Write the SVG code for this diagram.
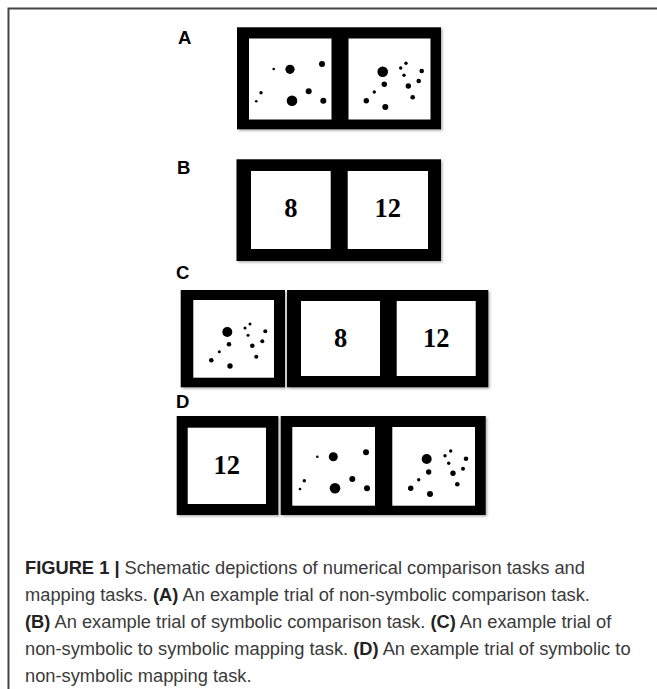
<svg xmlns="http://www.w3.org/2000/svg" width="657" height="689" viewBox="0 0 657 689">
<style>
.frame{fill:#000;filter:url(#sh)}
.win{fill:#fff}
.dot{fill:#000}
.lbl{font-family:"Liberation Sans",Arial,sans-serif;font-weight:bold;font-size:18.5px;fill:#000}
.num{font-family:"Liberation Serif","Times New Roman",serif;font-weight:bold;font-size:26.5px;fill:#000;text-anchor:middle}
.cap{font-family:"Liberation Sans",Arial,sans-serif;font-size:18.3px;fill:#3a3a3a}
.b{font-weight:bold;fill:#222}
</style>
<defs>
<filter id="sh" x="-5%" y="-5%" width="115%" height="115%">
<feDropShadow dx="1.5" dy="1.5" stdDeviation="1" flood-color="#000" flood-opacity="0.3"/>
</filter>
</defs>
<rect width="657" height="689" fill="#fff"/>
<path d="M8.5,689 V8.5 H657" fill="none" stroke="#444" stroke-width="2"/>

<g id="panelA">
<text class="lbl" x="178" y="43.5">A</text>
<rect class="frame" x="237" y="27.3" width="204" height="102"/>
<rect class="win" x="249" y="38.5" width="82.5" height="81"/>
<rect class="win" x="348.5" y="38.5" width="82" height="81"/>
<g>
<circle class="dot" cx="273.7" cy="69" r="1.3"/>
<circle class="dot" cx="290" cy="69.3" r="4.6"/>
<circle class="dot" cx="322" cy="64" r="3"/>
<circle class="dot" cx="261" cy="92.7" r="1.7"/>
<circle class="dot" cx="256.3" cy="101.3" r="1.3"/>
<circle class="dot" cx="308.7" cy="91.3" r="3"/>
<circle class="dot" cx="292" cy="100.7" r="5.3"/>
<circle class="dot" cx="323.3" cy="100.7" r="3"/>
</g>
<g>
<circle class="dot" cx="382.7" cy="71.7" r="5.3"/>
<circle class="dot" cx="400.7" cy="68" r="1.7"/>
<circle class="dot" cx="406" cy="63.3" r="1.7"/>
<circle class="dot" cx="404" cy="75.3" r="1.7"/>
<circle class="dot" cx="421.7" cy="71" r="2.3"/>
<circle class="dot" cx="384.3" cy="84.3" r="2.7"/>
<circle class="dot" cx="408.3" cy="86" r="2.7"/>
<circle class="dot" cx="418.7" cy="81" r="2.3"/>
<circle class="dot" cx="374.3" cy="92" r="1.7"/>
<circle class="dot" cx="412.7" cy="97.3" r="2.3"/>
<circle class="dot" cx="366.3" cy="100.7" r="2.7"/>
<circle class="dot" cx="385.3" cy="107" r="3"/>
</g>
</g>

<g id="panelB">
<text class="lbl" x="177" y="174">B</text>
<rect class="frame" x="236.5" y="159.3" width="204.5" height="101.7"/>
<rect class="win" x="251" y="171" width="79.7" height="78"/>
<rect class="win" x="347.7" y="171" width="80.3" height="78"/>
<text class="num" x="290.8" y="216.7">8</text>
<text class="num" x="387.8" y="216.7">12</text>
</g>

<g id="panelC">
<text class="lbl" x="176" y="279">C</text>
<g id="C-dots">
<rect class="frame" x="180.7" y="290" width="104.3" height="97.3"/>
<rect class="win" x="193.3" y="300" width="80.7" height="77.7"/>
<circle class="dot" cx="227.3" cy="332" r="5"/>
<circle class="dot" cx="245" cy="328" r="1.5"/>
<circle class="dot" cx="250" cy="324" r="1.5"/>
<circle class="dot" cx="248" cy="335.3" r="1.5"/>
<circle class="dot" cx="265.3" cy="331.3" r="2"/>
<circle class="dot" cx="229" cy="344.3" r="2.3"/>
<circle class="dot" cx="252.3" cy="345.7" r="2.3"/>
<circle class="dot" cx="262.3" cy="341.3" r="2"/>
<circle class="dot" cx="219.3" cy="351.7" r="1.5"/>
<circle class="dot" cx="256.3" cy="356.7" r="2"/>
<circle class="dot" cx="211.3" cy="360.3" r="2.3"/>
<circle class="dot" cx="230" cy="366" r="2.7"/>
</g>
<g id="C-nums">
<rect class="frame" x="287" y="290" width="201.3" height="97.3"/>
<rect class="win" x="301" y="301" width="79" height="75"/>
<rect class="win" x="396.7" y="301" width="79" height="75"/>
<text class="num" x="340.5" y="346.7">8</text>
<text class="num" x="436.2" y="346.7">12</text>
</g>
</g>

<g id="panelD">
<text class="lbl" x="176" y="408.3">D</text>
<g id="D-num">
<rect class="frame" x="176.7" y="416" width="101.6" height="99"/>
<rect class="win" x="187.7" y="427.7" width="78.3" height="76.3"/>
<text class="num" x="226.8" y="474">12</text>
</g>
<g id="D-dots">
<rect class="frame" x="280.7" y="416" width="205" height="99"/>
<rect class="win" x="292.3" y="427" width="82.7" height="78.7"/>
<rect class="win" x="392.3" y="427" width="82.7" height="78.7"/>
<circle class="dot" cx="317.3" cy="456.7" r="1.3"/>
<circle class="dot" cx="333.3" cy="456.7" r="4.5"/>
<circle class="dot" cx="366" cy="452.3" r="3"/>
<circle class="dot" cx="304.3" cy="480.7" r="1.7"/>
<circle class="dot" cx="300" cy="489" r="1.3"/>
<circle class="dot" cx="352.3" cy="479" r="3"/>
<circle class="dot" cx="335" cy="488.3" r="5.3"/>
<circle class="dot" cx="367" cy="488.3" r="3"/>
<circle class="dot" cx="426.7" cy="459" r="5"/>
<circle class="dot" cx="445" cy="455.7" r="1.7"/>
<circle class="dot" cx="450.7" cy="451" r="1.7"/>
<circle class="dot" cx="448.7" cy="463.3" r="1.7"/>
<circle class="dot" cx="466" cy="458.7" r="2.3"/>
<circle class="dot" cx="428.7" cy="472" r="2.7"/>
<circle class="dot" cx="453" cy="473.3" r="2.7"/>
<circle class="dot" cx="463" cy="468.7" r="2"/>
<circle class="dot" cx="418.7" cy="479.7" r="1.7"/>
<circle class="dot" cx="457.3" cy="484.3" r="2.3"/>
<circle class="dot" cx="410.7" cy="488.3" r="2.7"/>
<circle class="dot" cx="430" cy="494" r="3"/>
</g>
</g>

<g id="caption" class="cap">
<text x="25" y="574"><tspan class="b">FIGURE 1 |</tspan> Schematic depictions of numerical comparison tasks and</text>
<text x="25" y="601">mapping tasks. <tspan class="b">(A)</tspan> An example trial of non-symbolic comparison task.</text>
<text x="25" y="628"><tspan class="b">(B)</tspan> An example trial of symbolic comparison task. <tspan class="b">(C)</tspan> An example trial of</text>
<text x="25" y="655">non-symbolic to symbolic mapping task. <tspan class="b">(D)</tspan> An example trial of symbolic to</text>
<text x="25" y="682">non-symbolic mapping task.</text>
</g>
</svg>
